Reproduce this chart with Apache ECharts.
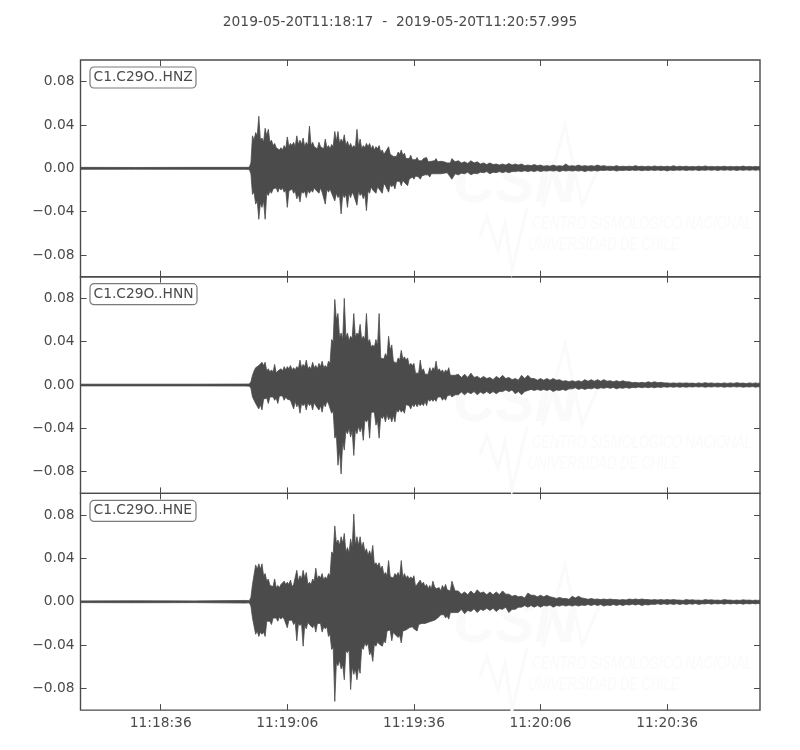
<!DOCTYPE html>
<html>
<head>
<meta charset="utf-8">
<style>html,body{margin:0;padding:0;background:#fff}#c{width:800px;height:750px}</style>
<script src="https://cdn.jsdelivr.net/npm/echarts@6/dist/echarts.min.js"></script>
</head>
<body>
<div id="c"></div>
<script>
const titleText = '2019-05-20T11:18:17  -  2019-05-20T11:20:57.995';
const channels = ['C1.C29O..HNZ', 'C1.C29O..HNN', 'C1.C29O..HNE'];
const xTicks = [36, 66, 96, 126, 156];
const xTickLabels = ['11:18:36', '11:19:06', '11:19:36', '11:20:06', '11:20:36'];
const yTicks = [-0.08, -0.04, 0, 0.04, 0.08];
const yTickLabels = ['\u22120.08', '\u22120.04', '0.00', '0.04', '0.08'];

// seconds after 11:18:00
const times = [17,30,44,56,
57,57.75,58.5,59.25,60,60.75,61.5,62.25,63,63.75,64.5,65.25,66,66.75,67.5,68.25,69,69.75,70.5,71.25,72,72.75,73.5,74.25,75,75.75,76.5,77.25,78,78.75,79.5,80.25,81,81.75,82.5,83.25,84,84.75,85.5,86.25,87,87.75,88.5,89.25,90,90.75,91.5,92.25,93,93.75,94.5,95.25,96,96.75,97.5,98.25,99,99.75,100.5,101.25,102,102.75,103.5,104.25,105,
106.5,108,109.5,111,112.5,114,115.5,117,118.5,120,121.5,123,124.5,126,127.5,129,130.5,132,133.5,135,136.5,138,139.5,141,142.5,144,145.5,147,148.5,150,151.5,153,154.5,156,157.5,159,160.5,162,163.5,165,166.5,168,169.5,171,172.5,174,175.5,177,177.995];
const firstStrong = 4;   // index in times of the first sample with a dip read after it

// peak amplitudes per sample, in thousandths of the axis unit
const hnzUpper = [0.9,0.8,0.9,0.9,
1,30,33,48,28,37,36,26,23,20,19,21,29,23,24,30,26,28,24,39,24,21,24,21,27,21,22,34,34,27,31,25,23,21,36,27,21,23,23,21,
20,21,17,15,20,14,12,15,17,14,10,12,9,10,8,9,10,7,8,9,7,8,7,6,9,
7,6,7,6,5,5,4,4,4.5,4,4,3,3.5,3,2.5,3,2.5,4,2.5,3,2.5,2.5,3,2.5,2,2.5,2,2,2.5,2,2,2.2,2,2,2.4,2,2,1.8,2,2.2,1.8,1.8,2,1.8,1.8,2.1,1.8,1.8,1.8];
const hnzLower = [-0.9,-0.8,-0.9,-0.9,
-1,-24,-33,-47,-36,-47,-25,-23,-20,-22,-20,-22,-36,-22,-23,-28,-31,-23,-27,-23,-22,-20,-23,-22,-33,-22,-23,-30,-27,-42,-27,-36,-27,-25,-34,-25,-28,-39,-23,-20,
-23,-19,-23,-16,-22,-17,-19,-13,-16,-13,-16,-11,-10,-8,-10,-8,-7,-8,-6,-6,-6,-6,-5,-6,-10,
-6,-5,-6,-5,-4,-5,-4,-4,-4,-3,-3,-3,-3,-3,-2.5,-2.5,-3,-2.5,-2.5,-2.5,-3,-2.5,-2.5,-2,-2,-2.5,-2,-2,-2,-2.2,-2,-2,-2,-2.4,-2,-1.8,-2,-1.8,-2,-1.8,-1.8,-2,-1.8,-1.8,-2,-1.8,-1.8,-1.8,-1.8];

const hnnUpper = [0.8,0.8,0.8,0.9,
1,9,16,18,21,21,15,14,19,13,15,17,17,18,16,17,23,19,23,17,21,18,20,22,18,22,
42,79,66,48,80,48,45,66,48,56,45,66,42,37,42,66,26,29,45,37,23,25,32,26,25,20,20,12,23,15,11,16,16,22,15,14,14,16,10,
10,10,11,8,8,7,8,9,7,6,9,9,6,6,6,6,5,4,4,4,5,5,5,5,4,4,4,3,2.5,2.5,3,3,2.5,2,2,2,2,1.8,2,2.2,2,1.8,2,2,2.2,1.8,2,2,2];
const hnnLower = [-0.8,-0.8,-0.8,-0.9,
-1,-11,-17,-22,-23,-14,-17,-12,-14,-17,-11,-14,-13,-14,-22,-20,-26,-19,-23,-19,-23,-19,-23,-25,-20,-17,
-26,-49,-74,-82,-60,-45,-48,-65,-45,-43,-51,-34,-49,-26,-37,-49,-31,-34,-32,-34,-34,-25,-25,-26,-19,-22,-20,-20,-19,-19,-19,-15,-15,-15,-12,-14,-14,-11,-11,
-9,-9,-8,-9,-8,-8,-8,-6,-6,-8,-9,-5,-5,-5,-5,-6,-5,-5,-3.5,-4,-4,-3.5,-3.5,-3,-3,-3.5,-3,-3,-2.5,-2.5,-2.5,-2.5,-2.2,-2,-2,-2,-2,-1.8,-1.8,-2,-1.8,-1.8,-2,-1.8,-1.8,-2,-1.8,-2,-1.8];

const hneUpper = [0.8,0.9,0.8,1.2,
1,16,34,35,35,26,21,16,21,15,16,19,18,20,16,29,24,29,27,18,21,31,24,26,23,26,
46,70,57,60,63,50,58,81,60,60,55,49,47,52,36,36,33,27,38,24,26,27,38,26,24,23,24,16,20,18,16,15,19,12,13,15,16,12,19,
10,9,10,11,9,9,9,10,7,6,5,8,6,6,6,4,4,3,5,5,3,3,2.5,2.5,2.5,2,2,2.5,2.5,2.5,2,2,2,2,2,1.5,2,1.8,1.5,2,1.8,1.5,2,1.5,1.5,1.8,1.5,1.5,1.5];
const hneLower = [-0.8,-0.9,-0.8,-1.2,
-1,-15,-30,-32,-30,-32,-19,-21,-16,-18,-16,-16,-24,-18,-21,-36,-22,-41,-25,-21,-24,-28,-21,-28,-25,-32,
-44,-92,-59,-62,-72,-47,-81,-67,-72,-66,-44,-41,-49,-55,-41,-39,-41,-38,-28,-36,-30,-33,-38,-28,-27,-25,-25,-27,-22,-21,-21,-19,-19,-18,-16,-13,-15,-16,-11,
-10,-11,-9,-10,-8,-8,-9,-7,-10,-7,-5,-5,-5,-5,-4,-5,-4,-4,-4,-4,-3.5,-3.5,-3.5,-4,-3.5,-3.5,-3.5,-3,-3,-3.5,-3,-2.5,-2.5,-2.5,-2.5,-2.5,-2.5,-2.2,-2.5,-2,-2.2,-2,-2.2,-2,-2,-2.2,-2,-2,-2];

// dips in the outline, read between neighbouring peaks (strong part, then tail)
const hnzDipUp = [5,26,30,26,24,30,24,21,19,17,17,18,20,21,20,22,22,20,21,21,20,18,20,18,19,18,20,25,23,24,21,20,19,19,20,18,19,20,18,17,18,15,13,14,13,11,11,13,12,9,9,8,8,7,7,8,6,6.5,7,6,6.5,6,5,5,6,
5,4.5,5,4,3.5,3.5,3,3,3,3,2.5,2.5,2.5,2,2,2,2,2,2,2,2,2,2,1.8,1.6,1.6,1.6,1.6,1.6,1.5,1.5,1.6,1.5,1.5,1.5,1.5,1.4,1.4,1.5,1.5,1.4,1.4,1.4,1.4,1.4,1.4,1.4,1.4];
const hnzDipDn = [-5,-22,-30,-32,-30,-23,-21,-19,-18,-18,-18,-20,-21,-19,-21,-24,-21,-21,-20,-20,-18,-19,-18,-21,-19,-19,-22,-23,-25,-24,-24,-23,-22,-24,-21,-23,-24,-21,-17,-19,-17,-18,-14,-17,-15,-15,-12,-12,-11,-12,-10,-8,-7,-8,-7,-6,-6,-5,-5,-5,-5,-4.5,-4,-5,-5,
-4.5,-3.5,-4.5,-3.5,-3,-3.5,-3,-3,-3,-2.5,-2.2,-2.2,-2,-2.2,-2,-2,-2,-2,-2,-2,-2,-2,-1.8,-1.6,-1.6,-1.8,-1.6,-1.5,-1.5,-1.6,-1.5,-1.5,-1.5,-1.6,-1.5,-1.4,-1.5,-1.4,-1.5,-1.4,-1.4,-1.4,-1.4,-1.4,-1.4,-1.4,-1.4,-1.4];
const hnnDipUp = [3,13,15,17,18,13,12,12,11,12,13,14,15,14,14,15,16,17,15,15,16,15,17,16,16,20,40,60,44,42,44,41,43,44,46,42,42,40,35,35,36,25,24,26,32,22,20,23,24,23,18,18,11,11,13,10,10,12,14,13,12,11,12,9,9,
7,7,7,6,6,5,6,6,5,4.5,6,6,4.5,4.5,4.5,4.5,3.5,3,3,3,3.5,3.5,3.5,3.5,3,3,3,2.2,2,2,2.2,2.2,2,1.6,1.6,1.6,1.6,1.4,1.5,1.6,1.5,1.4,1.5,1.5,1.6,1.4,1.5,1.5];
const hnnDipDn = [-3,-10,-16,-18,-13,-12,-11,-11,-12,-10,-10,-11,-12,-13,-15,-17,-17,-17,-16,-17,-16,-18,-19,-17,-15,-18,-24,-46,-60,-52,-42,-40,-42,-41,-38,-38,-32,-31,-25,-25,-33,-29,-28,-27,-29,-28,-23,-22,-23,-18,-19,-18,-17,-17,-17,-15,-13,-13,-13,-11,-11,-12,-10,-9,-9,
-6.5,-6.5,-6,-6.5,-6,-6,-6,-4.5,-4.5,-6,-6,-4,-4,-4,-4,-4.5,-4,-3.5,-2.5,-3,-3,-2.5,-2.5,-2.2,-2.2,-2.5,-2.2,-2.2,-1.8,-1.8,-1.8,-1.8,-1.6,-1.5,-1.5,-1.5,-1.5,-1.4,-1.4,-1.5,-1.4,-1.4,-1.5,-1.4,-1.4,-1.5,-1.4,-1.5];
const hneDipUp = [4,15,30,30,24,19,15,14,13,13,15,16,16,14,15,19,21,22,16,16,19,21,22,20,21,24,44,54,52,54,46,45,50,52,52,50,46,43,42,34,33,30,25,24,23,22,24,23,22,22,21,21,14,15,16,14,12,12,14,11,10,12,11,10,10,
7,6.5,7,8,6.5,6.5,6.5,7,5,4.5,3.5,6,4.5,4.5,4.5,3,3,2.2,3.5,3.5,2.2,2.2,2,2,2,1.6,1.6,2,2,2,1.6,1.6,1.6,1.6,1.6,1.2,1.5,1.4,1.2,1.5,1.4,1.2,1.5,1.2,1.2,1.4,1.2,1.2];
const hneDipDn = [-4,-14,-27,-28,-28,-18,-18,-15,-15,-14,-14,-15,-17,-17,-19,-20,-20,-22,-19,-20,-21,-20,-20,-23,-23,-30,-42,-56,-54,-58,-45,-44,-60,-62,-60,-42,-38,-38,-46,-39,-37,-38,-36,-27,-26,-28,-29,-31,-27,-26,-24,-23,-24,-21,-20,-20,-19,-18,-17,-15,-12,-12,-13,-10,-10,
-7,-8,-6.5,-7,-6,-6,-6.5,-5,-7,-5,-3.5,-3.5,-3.5,-3.5,-3,-3.5,-3,-3,-3,-3,-2.5,-2.5,-2.5,-3,-2.5,-2.5,-2.5,-2.2,-2.2,-2.5,-2.2,-1.8,-1.8,-1.8,-1.8,-1.8,-1.8,-1.6,-1.8,-1.5,-1.6,-1.5,-1.6,-1.5,-1.5,-1.6,-1.5,-1.5];

const uppers = [hnzUpper, hnnUpper, hneUpper];
const lowers = [hnzLower, hnnLower, hneLower];
const dipUps = [hnzDipUp, hnnDipUp, hneDipUp];
const dipDns = [hnzDipDn, hnnDipDn, hneDipDn];

const INK = '#4b4b4b';
const FONT = '"DejaVu Sans"';
const panelTops = [60, 276.7, 493.4];
const panelH = 216.7;
const WM = '#fafafa';

const grids = [], xAxes = [], yAxes = [], series = [], titles = [], graphics = [];
titles.push({text: titleText, left: 'center', top: 9,
  textStyle: {color: INK, fontFamily: FONT, fontSize: 13.8, fontWeight: 'normal', lineHeight: 16}});

channels.forEach((name, p) => {
  grids.push({left: 80.5, width: 679.5, top: panelTops[p], height: panelH, show: true,
    borderColor: INK, borderWidth: 1.4, backgroundColor: 'transparent', containLabel: false});
  [false, true].forEach(second => {
    xAxes.push({gridIndex: p, type: 'value', min: 17, max: 177.995, position: second ? 'top' : 'bottom',
      splitLine: {show: false}, axisLine: {show: false, onZero: false},
      axisTick: {show: true, inside: true, length: 6, customValues: xTicks, lineStyle: {color: INK, width: 1}},
      axisLabel: {show: !second && p === 2, customValues: xTicks, color: INK, fontFamily: FONT, fontSize: 13.8, margin: 6,
        formatter: v => xTickLabels[xTicks.indexOf(v)]}});
    yAxes.push({gridIndex: p, type: 'value', min: -0.1, max: 0.1, position: second ? 'right' : 'left',
      splitLine: {show: false}, axisLine: {show: false, onZero: false},
      axisTick: {show: true, inside: true, length: 6, customValues: yTicks, lineStyle: {color: INK, width: 1}},
      axisLabel: {show: !second, customValues: yTicks, color: INK, fontFamily: FONT, fontSize: 13.8, margin: 6,
        formatter: v => yTickLabels[yTicks.findIndex(t => Math.abs(t - v) < 1e-9)]}});
  });
  // outline of the trace: each peak, then the dip read after it
  [[uppers[p], dipUps[p]], [lowers[p], dipDns[p]]].forEach(([peaks, dips], k) => {
    const pts = [];
    times.forEach((t, i) => {
      pts.push([t, peaks[i] / 1000]);
      const d = dips[i - firstStrong];
      if (d !== undefined && i + 1 < times.length) pts.push([(t + times[i + 1]) / 2, d / 1000]);
    });
    series.push({name: name + (k ? ' min' : ' max'), type: 'line', xAxisIndex: p * 2, yAxisIndex: p * 2,
      data: pts, showSymbol: false, symbol: 'none', silent: true,
      lineStyle: {color: INK, width: 0.8, join: 'miter', miterLimit: 20},
      areaStyle: {color: INK, opacity: 1, origin: k ? 0.0005 : -0.0005}, z: 3, animation: false});
  });
  titles.push({text: name, left: 89.5, top: panelTops[p] + 6.5, padding: [3, 4, 3, 4],
    borderColor: '#7a7a7a', borderWidth: 1.2, borderRadius: 4, backgroundColor: '#fff', z: 10,
    textStyle: {color: INK, fontFamily: FONT, fontSize: 13.8, fontWeight: 'normal', lineHeight: 16}});

  // faint watermark behind the trace
  const dy = [0, 219, 440][p];
  const poly = pts => ({type: 'polyline', z: 0, silent: true,
    shape: {points: pts.map(q => [q[0], q[1] + dy])}, style: {stroke: WM, lineWidth: 3, fill: null}});
  graphics.push(
    {type: 'text', z: 0, silent: true, x: 453, y: 155 + dy, scaleX: 0.98,
      style: {text: 'CSN', font: 'italic bold 60px "Liberation Sans"', fill: WM}},
    poly([[543, 207], [565, 125], [582, 205], [600, 165]]),
    poly([[480, 236], [487, 217], [498, 250], [505, 222], [512, 270], [527, 208]]),
    {type: 'text', z: 0, silent: true, x: 532, y: 214 + dy, scaleX: 0.68,
      style: {text: 'CENTRO SISMOL\u00d3GICO NACIONAL', font: 'italic 19px "Liberation Sans"', fill: WM}},
    {type: 'text', z: 0, silent: true, x: 528, y: 235 + dy, scaleX: 0.68,
      style: {text: 'UNIVERSIDAD DE CHILE', font: 'italic 19px "Liberation Sans"', fill: WM}}
  );
});

const chart = echarts.init(document.getElementById('c'), null, {renderer: 'canvas'});
chart.setOption({
  animation: false, backgroundColor: '#fff', title: titles, grid: grids,
  xAxis: xAxes, yAxis: yAxes, series: series, graphic: {elements: graphics}
});
</script>
</body>
</html>
